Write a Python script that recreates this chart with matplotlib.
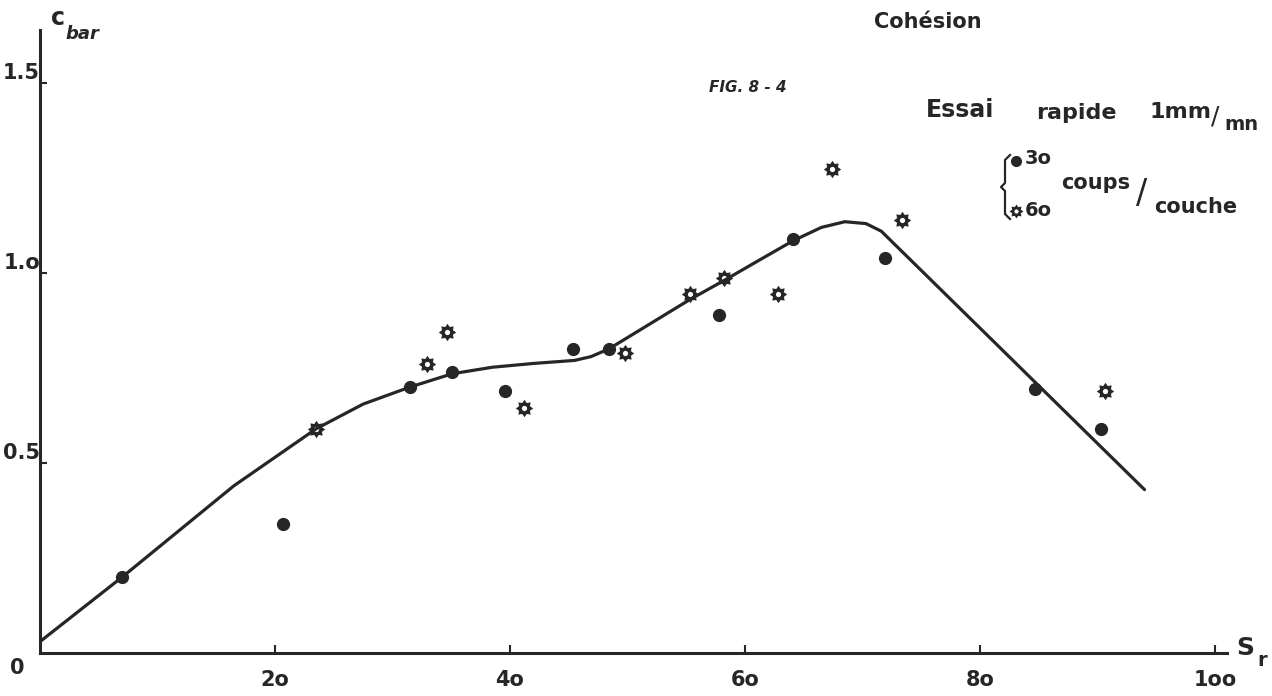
import matplotlib
matplotlib.use("Agg")
import matplotlib.pyplot as plt
import numpy as np
from matplotlib.path import Path
from matplotlib.markers import MarkerStyle

# Cohesion c (bar) against degree of saturation Sr (%), quick test 1 mm/mn
sr_30 = [7.0, 20.7, 31.5, 35.1, 39.6, 45.4, 48.4, 57.8, 64.1, 71.9, 84.7, 90.3]
c_30 = [0.20, 0.34, 0.70, 0.74, 0.69, 0.80, 0.80, 0.89, 1.09, 1.04, 0.695, 0.59]

sr_60 = [23.5, 32.9, 34.6, 41.2, 49.8, 55.3, 58.2, 62.8, 67.4, 73.4, 90.6]
c_60 = [0.59, 0.76, 0.845, 0.644, 0.79, 0.944, 0.987, 0.944, 1.275, 1.14, 0.69]

# hand-drawn trend curve
curve_sr = [0, 7, 16.5, 20, 23.5, 27.5, 31.5, 35.1, 38.5, 42, 45.5, 46.9,
            48.4, 50, 55.3, 58.2, 61, 64.1, 66.5, 68.5, 70.3, 71.6, 94]
curve_c = [0.03, 0.20, 0.44, 0.515, 0.59, 0.655, 0.70, 0.735, 0.752, 0.762,
           0.77, 0.78, 0.80, 0.83, 0.93, 0.98, 1.03, 1.085, 1.12, 1.135,
           1.13, 1.11, 0.43]

x_ticks = [20, 40, 60, 80, 100]
x_tick_labels = ["2o", "4o", "6o", "8o", "1oo"]
y_ticks = [0.5, 1.0, 1.5]
y_tick_labels = ["0.5", "1.o", "1.5"]

INK = "#262626"
W, H = 1272, 696
fig = plt.figure(figsize=(W / 100, H / 100), dpi=100)
fig.patch.set_facecolor("white")

x0_px, px_per_unit = 40, 11.75
y0_px, px_per_bar = 653, 380
xmax, ymax = 101, 1.64
ax = fig.add_axes([x0_px / W, (H - y0_px) / H,
                   xmax * px_per_unit / W, ymax * px_per_bar / H])
ax.set_xlim(0, xmax)
ax.set_ylim(0, ymax)
for s in ("top", "right"):
    ax.spines[s].set_visible(False)
for s in ("left", "bottom"):
    ax.spines[s].set_linewidth(2.2)
    ax.spines[s].set_color(INK)
ax.patch.set_alpha(0)


def gear_marker(n=8, r_out=1.0, r_in=0.68, r_hole=0.30):
    ang = np.linspace(0, 2 * np.pi, 2 * n, endpoint=False) + np.pi / 2
    rad = np.where(np.arange(2 * n) % 2 == 0, r_out, r_in)
    outer = np.column_stack([rad * np.cos(ang), rad * np.sin(ang)])
    outer = np.vstack([outer, outer[:1]])
    t = np.linspace(0, -2 * np.pi, 25)
    inner = np.column_stack([r_hole * np.cos(t), r_hole * np.sin(t)])
    verts = np.vstack([outer, inner])
    codes = ([Path.MOVETO] + [Path.LINETO] * (len(outer) - 2) + [Path.CLOSEPOLY]
             + [Path.MOVETO] + [Path.LINETO] * (len(inner) - 2) + [Path.CLOSEPOLY])
    return MarkerStyle(Path(verts, codes))


gear = gear_marker()

ax.plot(curve_sr, curve_c, color=INK, lw=2.3, solid_capstyle="round",
        solid_joinstyle="round", zorder=2)
ax.plot(sr_30, c_30, "o", color=INK, ms=8.5, mec=INK, zorder=3)
ax.plot(sr_60, c_60, linestyle="none", marker=gear, color=INK, ms=12.5,
        mew=0, zorder=3)

# ticks
ax.set_xticks(x_ticks)
ax.set_xticklabels(x_tick_labels, fontsize=15, fontweight="bold", color=INK)
ax.set_yticks(y_ticks)
ax.set_yticklabels(y_tick_labels, fontsize=15, fontweight="bold", color=INK)
ax.tick_params(axis="x", direction="in", length=6, width=1.5, color=INK, pad=12)
ax.tick_params(axis="y", direction="in", length=5, width=1.5, color=INK, pad=0)
for lab in ax.get_yticklabels():
    lab.set_verticalalignment("bottom")


def ftext(x, y, s, **kw):
    kw.setdefault("color", INK)
    kw.setdefault("fontweight", "bold")
    return fig.text(x / W, 1 - y / H, s, **kw)


ftext(17, 668, "0", fontsize=15, ha="center", va="center")

# axis titles
ftext(58, 18, "c", fontsize=17, ha="center", va="center")
ftext(82, 34, "bar", fontsize=13, style="italic", ha="center", va="center")
ftext(1245, 648, "S", fontsize=18, ha="center", va="center")
ftext(1262, 660, "r", fontsize=14, ha="center", va="center")

# titles
ftext(928, 22, "Cohésion", fontsize=15, ha="center", va="center")
ftext(748, 88, "FIG. 8 - 4", fontsize=11, style="italic", ha="center",
      va="center")
ftext(960, 110, "Essai", fontsize=17, ha="center", va="center")
ftext(1076, 113, "rapide", fontsize=16, ha="center", va="center")
ftext(1180, 112, "1mm", fontsize=16, ha="center", va="center")
ftext(1215, 117, "/", fontsize=18, fontweight="normal", ha="center",
      va="center")
ftext(1241, 125, "mn", fontsize=14, ha="center", va="center")

# legend with bracket
bx = np.array([1010, 1005, 1005, 1001, 1005, 1005, 1010]) / W
by = 1 - np.array([155, 160, 183, 187, 191, 214, 219]) / H
fig.add_artist(plt.Line2D(bx, by, color=INK, lw=1.6,
                          transform=fig.transFigure))
fig.add_artist(plt.Line2D([1016 / W], [1 - 161 / H], marker="o", ms=7,
                          color=INK, transform=fig.transFigure))
fig.add_artist(plt.Line2D([1016 / W], [1 - 211 / H], marker=gear, ms=10,
                          mew=0, color=INK, transform=fig.transFigure))
ftext(1038, 159, "3o", fontsize=14, ha="center", va="center")
ftext(1038, 210, "6o", fontsize=14, ha="center", va="center")
ftext(1096, 183, "coups", fontsize=15, ha="center", va="center")
ftext(1142, 193, "/", fontsize=24, fontweight="normal", ha="center",
      va="center")
ftext(1196, 207, "couche", fontsize=15, ha="center", va="center")

fig.savefig("out.png", dpi=100, facecolor="white")
